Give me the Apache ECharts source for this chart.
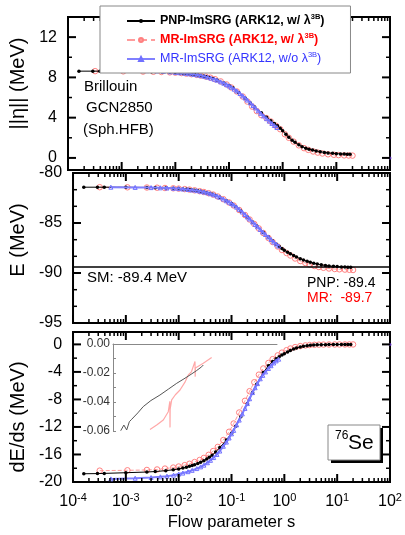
<!DOCTYPE html>
<html lang="en" style="height: 100%">
<head>
  <meta charset="utf-8">
</head>
<body style="height: 100%; margin: 0">
  <div id="container" style="width: 405px; height: 535px"></div>

  <script type="text/javascript" src="https://fastly.jsdelivr.net/npm/echarts@6/dist/echarts.min.js"></script>

  <script type="text/javascript">
    // ---- data ----
    // PNP-ImSRG (black dots)
    const sPNP = [1.6e-4, 2.9e-4, 3.9e-4, 1.0e-3, 2.5e-3, 3.6e-3, 5.7e-3, 7.9e-3, 0.010, 0.012,
      0.014, 0.016, 0.018, 0.020, 0.023, 0.026, 0.030, 0.034, 0.038, 0.043,
      0.050, 0.060, 0.080, 0.10, 0.12, 0.15, 0.20, 0.25, 0.30, 0.40,
      0.50, 0.60, 0.70, 0.80, 0.90, 1.0, 1.15, 1.3, 1.5, 1.7,
      2.0, 2.3, 2.7, 3.1, 3.6, 4.2, 5.0, 6.0, 7.0, 8.5,
      10, 12, 14, 16, 18];
    const etaPNP = [8.62, 8.62, 8.62, 8.60, 8.58, 8.56, 8.53, 8.50, 8.47, 8.44,
      8.41, 8.38, 8.35, 8.32, 8.28, 8.24, 8.18, 8.12, 8.06, 7.99,
      7.90, 7.75, 7.45, 7.20, 6.95, 6.50, 5.95, 5.45, 5.05, 4.50,
      4.05, 3.70, 3.42, 3.20, 2.95, 2.70, 2.35, 2.05, 1.75, 1.55,
      1.30, 1.12, 0.97, 0.87, 0.78, 0.70, 0.62, 0.55, 0.50, 0.46,
      0.42, 0.40, 0.38, 0.37, 0.37];
    const ePNP = [-81.42, -81.42, -81.42, -81.43, -81.45, -81.47, -81.50, -81.53, -81.56, -81.60,
      -81.63, -81.66, -81.70, -81.73, -81.78, -81.83, -81.90, -81.97, -82.04, -82.12,
      -82.25, -82.42, -82.78, -83.05, -83.35, -83.80, -84.40, -84.90, -85.30, -85.95,
      -86.40, -86.80, -87.10, -87.35, -87.55, -87.72, -87.92, -88.08, -88.25, -88.40,
      -88.57, -88.70, -88.82, -88.92, -89.02, -89.10, -89.18, -89.24, -89.29, -89.33,
      -89.36, -89.39, -89.41, -89.42, -89.43];
    const dedsPNP = [-18.80, -18.78, -18.75, -18.65, -18.55, -18.48, -18.35, -18.22, -18.10, -17.98,
      -17.85, -17.72, -17.60, -17.48, -17.30, -17.12, -16.90, -16.65, -16.40, -16.10,
      -15.65, -15.00, -13.90, -12.90, -11.90, -10.50, -8.60, -7.00, -5.80, -4.10,
      -3.10, -2.50, -2.10, -1.80, -1.55, -1.35, -1.10, -0.88, -0.68, -0.53,
      -0.37, -0.27, -0.19, -0.14, -0.10, -0.07, -0.05, -0.035, -0.025, -0.02,
      -0.015, -0.012, -0.01, -0.008, -0.007];

    // MR-ImSRG w/ lambda3B (red open circles)
    const sMR = [3.2e-4, 1.07e-3, 2.5e-3, 3.9e-3, 5.5e-3, 7.9e-3, 0.010, 0.013, 0.016, 0.020,
      0.025, 0.030, 0.037, 0.045, 0.055, 0.070, 0.090, 0.11, 0.14, 0.18,
      0.22, 0.27, 0.33, 0.40, 0.50, 0.60, 0.75, 0.90, 1.1, 1.3,
      1.6, 2.0, 2.5, 3.0, 3.7, 4.5, 5.5, 7.0, 9.0, 11,
      14, 17, 20];
    const etaMR = [8.62, 8.60, 8.58, 8.56, 8.54, 8.50, 8.47, 8.43, 8.38, 8.32,
      8.25, 8.18, 8.08, 7.97, 7.82, 7.60, 7.30, 7.00, 6.60, 6.10,
      5.60, 5.10, 4.65, 4.25, 3.95, 3.62, 3.20, 2.85, 2.35, 2.00,
      1.62, 1.25, 0.97, 0.80, 0.64, 0.53, 0.44, 0.36, 0.31, 0.28,
      0.25, 0.24, 0.23];
    const eMR = [-81.42, -81.43, -81.45, -81.47, -81.50, -81.53, -81.56, -81.61, -81.66, -81.73,
      -81.82, -81.90, -82.02, -82.16, -82.35, -82.62, -82.95, -83.25, -83.70, -84.20,
      -84.65, -85.10, -85.55, -86.00, -86.50, -86.90, -87.35, -87.70, -88.00, -88.25,
      -88.55, -88.80, -89.00, -89.15, -89.30, -89.40, -89.48, -89.55, -89.60, -89.63,
      -89.66, -89.68, -89.70];
    const dedsMR = [-18.35, -18.30, -18.25, -18.18, -18.05, -17.90, -17.75, -17.55, -17.35, -17.10,
      -16.80, -16.50, -16.05, -15.50, -14.90, -13.90, -12.70, -11.50, -9.90, -8.20,
      -6.80, -5.50, -4.40, -3.50, -2.70, -2.15, -1.60, -1.20, -0.85, -0.60,
      -0.40, -0.25, -0.15, -0.10, -0.06, -0.04, -0.03, -0.02, -0.015, -0.012,
      -0.010, -0.009, -0.008];

    // MR-ImSRG w/o lambda3B (blue open triangles)
    const sMR2 = [5.2e-4, 1.5e-3, 3.0e-3, 4.5e-3, 6.0e-3, 8.0e-3, 0.010, 0.012, 0.015, 0.018,
      0.022, 0.026, 0.030, 0.035, 0.040, 0.046, 0.053, 0.060, 0.070, 0.080,
      0.090, 0.10, 0.11, 0.125, 0.14, 0.16, 0.18, 0.20, 0.22, 0.25,
      0.28, 0.31, 0.35, 0.39, 0.44, 0.50, 0.56, 0.63, 0.70, 0.78];
    const etaMR2 = [8.72, 8.70, 8.67, 8.64, 8.60, 8.55, 8.50, 8.46, 8.41, 8.36,
      8.30, 8.24, 8.18, 8.10, 8.02, 7.93, 7.82, 7.72, 7.56, 7.42,
      7.28, 7.15, 7.02, 6.83, 6.65, 6.40, 6.17, 5.95, 5.75, 5.47,
      5.20, 4.97, 4.68, 4.43, 4.17, 3.90, 3.66, 3.42, 3.22, 3.02];
    const eMR2 = [-81.42, -81.44, -81.46, -81.48, -81.50, -81.53, -81.56, -81.60, -81.65, -81.70,
      -81.76, -81.83, -81.90, -81.98, -82.07, -82.17, -82.30, -82.42, -82.60, -82.78,
      -82.92, -83.05, -83.20, -83.42, -83.63, -83.90, -84.15, -84.40, -84.60, -84.90,
      -85.15, -85.38, -85.65, -85.90, -86.15, -86.40, -86.65, -86.90, -87.10, -87.30];
    const dedsMR2 = [-19.55, -19.45, -19.35, -19.25, -19.15, -19.00, -18.85, -18.70, -18.50, -18.30,
      -18.05, -17.80, -17.55, -17.20, -16.85, -16.45, -16.00, -15.50, -14.80, -14.20,
      -13.60, -13.00, -12.50, -11.70, -11.00, -10.10, -9.30, -8.60, -7.90, -7.00,
      -6.30, -5.70, -5.00, -4.50, -4.00, -3.50, -3.10, -2.70, -2.40, -2.15];

    // stray point at the right edge
    const sStray = [100];
    const etaStray = [0];
    const dedsStray = [0];

    // inset (dE/ds, small scale)
    const sInsetPNP = [9.6e-4, 1.10e-3, 1.24e-3, 1.39e-3, 1.54e-3, 2.0e-3, 2.52e-3, 3.5e-3, 5.16e-3, 7.5e-3,
      0.0106, 0.0145, 0.0187, 0.0245, 0.0309, 0.0331];
    const insetPNP = [-0.0598, -0.0559, -0.0593, -0.0536, -0.0519, -0.0475, -0.0432, -0.0390, -0.0352, -0.0310,
      -0.0271, -0.0240, -0.0214, -0.0185, -0.0157, -0.0145];
    const sInsetMR = [3.37e-3, 4.49e-3, 5.96e-3, 7.38e-3, 7.9e-3, 7.95e-3, 8.0e-3, 8.54e-3, 0.0100, 0.0122,
      0.0150, 0.0174, 0.0200, 0.0232, 0.0234, 0.0236, 0.0249, 0.0331, 0.0474];
    const insetMR = [-0.0590, -0.0559, -0.0524, -0.0467, -0.0395, -0.0575, -0.0450, -0.0386, -0.0350, -0.0317,
      -0.0265, -0.0214, -0.0190, -0.0120, -0.0225, -0.0165, -0.0157, -0.0133, -0.0093];

    // ---- ticks ----
    const xMajor = [1e-4, 1e-3, 1e-2, 1e-1, 1, 10, 100];
    const xMinor = [];
    for (let d = -4; d < 2; d++) {
      for (let m = 2; m < 10; m++) xMinor.push(+(m * Math.pow(10, d)).toPrecision(3));
    }
    const etaMajor = [0, 4, 8, 12];
    const etaMinor = [2, 6, 10];
    const eMajor = [-95, -90, -85, -80];
    const eMinor = [-93.33, -91.67, -88.33, -86.67, -83.33, -81.67];
    const dedsMajor = [-20, -16, -12, -8, -4, 0];
    const dedsMinor = [-18, -14, -10, -6, -2];

    const names = ['PNP-ImSRG (ARK12, w/ λ3B)', 'MR-ImSRG (ARK12, w/ λ3B)', 'MR-ImSRG (ARK12, w/o λ3B)'];
    const FONT = 'Liberation Sans, Arial, sans-serif';
    const xRange = [1e-4, 100];
    const yRanges = [[-1.2, 14], [-95, -80], [-20, 1.8]];

    var dom = document.getElementById('container');
    var myChart = echarts.init(dom, null, { renderer: 'canvas' });

    function pts(s, v) {
      return s.map(function (x, i) { return [x, v[i]]; });
    }

    function makeX(g) {
      const ax = {
        type: 'log', logBase: 10, gridIndex: g, min: xRange[0], max: xRange[1], position: 'bottom',
        axisLine: { show: false, onZero: false }, axisTick: { show: false }, splitLine: { show: false },
        axisLabel: { show: false }
      };
      if (g === 2) {
        ax.axisLabel = {
          show: true, customValues: xMajor, margin: 10, showMinLabel: true, showMaxLabel: true,
          formatter: function (v) {
            return '{b|10}{sup|' + Math.round(Math.log10(v)) + '}';
          },
          rich: {
            b: { fontSize: 16, lineHeight: 20, color: '#000', fontFamily: FONT },
            sup: { fontSize: 11, lineHeight: 11, verticalAlign: 'top', color: '#000', fontFamily: FONT }
          }
        };
        ax.name = 'Flow parameter s';
        ax.nameLocation = 'middle';
        ax.nameGap = 32;
        ax.nameTextStyle = { fontSize: 16.5, color: '#000', fontFamily: FONT };
      }
      return ax;
    }

    // namePad shifts the rotated title along the axis
    function makeY(g, majors, title, namePad) {
      return {
        type: 'value', gridIndex: g, min: yRanges[g][0], max: yRanges[g][1], position: 'left',
        axisLine: { show: false, onZero: false }, axisTick: { show: false }, splitLine: { show: false },
        axisLabel: { show: true, customValues: majors, margin: 11, fontSize: 16, color: '#000', fontFamily: FONT },
        name: title, nameLocation: 'middle', nameGap: 38,
        nameTextStyle: { fontSize: 20, color: '#000', fontFamily: FONT, padding: namePad }
      };
    }

    // inward tick marks on all four sides of a panel, placed through the axes
    function tickSeries(g, yMajor, yMinor) {
      const yr = yRanges[g];
      const xd = xMajor.map(function (v) { return [v, yr[0], 1]; })
        .concat(xMinor.map(function (v) { return [v, yr[0], 0]; }));
      const yd = yMajor.map(function (v) { return [xRange[0], v, 1]; })
        .concat(yMinor.map(function (v) { return [xRange[0], v, 0]; }));
      const common = { type: 'custom', xAxisIndex: g, yAxisIndex: g, clip: false, silent: true, z: 6, encode: { x: 0, y: 1 } };
      function seg(x1, y1, x2, y2, w) {
        return { type: 'line', shape: { x1: x1, y1: y1, x2: x2, y2: y2 }, style: { stroke: '#000', lineWidth: w } };
      }
      return [
        Object.assign({}, common, {
          data: xd,
          renderItem: function (params, api) {
            const v = api.value(0), big = api.value(2) === 1;
            const L = big ? 8 : 4, w = big ? 2 : 1.5;
            const b = api.coord([v, yr[0]]), t = api.coord([v, yr[1]]);
            return { type: 'group', children: [seg(b[0], b[1], b[0], b[1] - L, w), seg(t[0], t[1], t[0], t[1] + L, w)] };
          }
        }),
        Object.assign({}, common, {
          data: yd,
          renderItem: function (params, api) {
            const v = api.value(1), big = api.value(2) === 1;
            const L = big ? 8 : 4, w = big ? 2 : 1.5;
            const l = api.coord([xRange[0], v]), r = api.coord([xRange[1], v]);
            return { type: 'group', children: [seg(l[0], l[1], l[0] + L, l[1], w), seg(r[0], r[1], r[0] - L, r[1], w)] };
          }
        })
      ];
    }

    const xAxes = [makeX(0), makeX(1), makeX(2)];
    xAxes.push({
      type: 'log', logBase: 10, gridIndex: 3, min: 6.9e-4, max: 0.78, position: 'top',
      axisLine: { show: true, onZero: false, lineStyle: { color: '#888', width: 1 } },
      axisTick: { show: false }, axisLabel: { show: false }, splitLine: { show: false }
    });
    const yAxes = [
      makeY(0, etaMajor, '||η|| (MeV)', [0, 0, 0, 20]),
      makeY(1, eMajor, 'E (MeV)', [0, 0, 0, 16]),
      makeY(2, dedsMajor, 'dE/ds (MeV)', [0, 20, 0, 0])
    ];
    yAxes.push({
      type: 'value', gridIndex: 3, min: -0.06, max: 0, interval: 0.02, position: 'left',
      axisLine: { show: true, onZero: false, lineStyle: { color: '#888', width: 1 } },
      axisTick: { show: true, inside: true, length: 3, lineStyle: { color: '#888' } },
      minorTick: { show: true, splitNumber: 2, length: 3, lineStyle: { color: '#888' } },
      axisLabel: { fontSize: 12, color: '#333', margin: 3, fontFamily: FONT, formatter: function (v) { return v.toFixed(2); } },
      splitLine: { show: false }
    });

    const redStyle = {
      type: 'line', symbol: 'circle', symbolSize: 5.5, z: 2,
      lineStyle: { color: '#ff9c9c', width: 1, type: 'dashed' },
      itemStyle: { color: 'rgba(255,255,255,0)', borderColor: '#ff8080', borderWidth: 1 }
    };
    const blackStyle = {
      type: 'line', symbol: 'circle', symbolSize: 3.5, z: 3,
      lineStyle: { color: '#000', width: 1 },
      itemStyle: { color: '#000' }
    };
    const blueStyle = {
      type: 'line', symbol: 'triangle', symbolSize: 4, z: 4,
      lineStyle: { color: '#8080ff', width: 2 },
      itemStyle: { color: 'rgba(255,255,255,0)', borderColor: '#7070ff', borderWidth: 1 }
    };

    const panels = [
      { pnp: etaPNP, mr: etaMR, mr2: etaMR2, yMaj: etaMajor, yMin: etaMinor },
      { pnp: ePNP, mr: eMR, mr2: eMR2, yMaj: eMajor, yMin: eMinor },
      { pnp: dedsPNP, mr: dedsMR, mr2: dedsMR2, yMaj: dedsMajor, yMin: dedsMinor }
    ];
    let series = [];
    panels.forEach(function (p, g) {
      const ax = { xAxisIndex: g, yAxisIndex: g };
      series.push(Object.assign({ name: names[1], data: pts(sMR, p.mr) }, redStyle, ax));
      const blk = Object.assign({ name: names[0], data: pts(sPNP, p.pnp) }, blackStyle, ax);
      if (g === 1) {
        blk.markLine = {
          silent: true, symbol: 'none', label: { show: false },
          lineStyle: { color: '#000', width: 1.5, type: 'solid' },
          data: [{ yAxis: -89.4 }]
        };
      }
      series.push(blk);
      series.push(Object.assign({ name: names[2], data: pts(sMR2, p.mr2) }, blueStyle, ax));
      series = series.concat(tickSeries(g, p.yMaj, p.yMin));
    });
    series.push({ type: 'scatter', xAxisIndex: 0, yAxisIndex: 0, data: pts(sStray, etaStray), symbolSize: 3, itemStyle: { color: '#6633cc' }, z: 5 });
    series.push({ type: 'scatter', xAxisIndex: 2, yAxisIndex: 2, data: pts(sStray, dedsStray), symbolSize: 3, itemStyle: { color: '#6633cc' }, z: 5 });
    series.push({ type: 'line', xAxisIndex: 3, yAxisIndex: 3, data: pts(sInsetMR, insetMR), symbol: 'none', lineStyle: { color: '#ffa8a8', width: 1.2 }, z: 2 });
    series.push({ type: 'line', xAxisIndex: 3, yAxisIndex: 3, data: pts(sInsetPNP, insetPNP), symbol: 'none', lineStyle: { color: '#555', width: 1 }, z: 2 });

    const supStyle = function (c) {
      return { fontSize: 7.5, lineHeight: 8, verticalAlign: 'top', color: c, fontFamily: FONT };
    };
    const supKey = {};
    supKey[names[0]] = 'sk';
    supKey[names[1]] = 'sr';
    supKey[names[2]] = 'sb';

    option = {
      animation: false,
      backgroundColor: '#fff',
      textStyle: { fontFamily: FONT },
      grid: [
        { left: 68, top: 17, width: 322, height: 153, show: true, borderColor: '#000', borderWidth: 2 },
        { left: 68, top: 173, width: 322, height: 150, show: true, borderColor: '#000', borderWidth: 2 },
        { left: 68, top: 332, width: 322, height: 150, show: true, borderColor: '#000', borderWidth: 2 },
        { left: 113, top: 344, width: 164, height: 87, show: false }
      ],
      xAxis: xAxes,
      yAxis: yAxes,
      legend: {
        z: 20,
        left: 100, top: 6, orient: 'vertical', selectedMode: false,
        itemWidth: 28, itemHeight: 5, itemGap: 3,
        padding: [7, 26, 6, 26],
        backgroundColor: '#fff', borderColor: '#888', borderWidth: 1,
        data: [
          { name: names[0], textStyle: { color: '#000', fontWeight: 'bold' } },
          { name: names[1], textStyle: { color: '#ff0000', fontWeight: 'bold' } },
          { name: names[2], textStyle: { color: '#3333ff' } }
        ],
        textStyle: {
          fontSize: 12.5, lineHeight: 16, fontFamily: FONT,
          rich: { sk: supStyle('#000'), sr: supStyle('#ff0000'), sb: supStyle('#3333ff') }
        },
        formatter: function (n) {
          return n.replace('λ3B', 'λ{' + supKey[n] + '|3B}');
        }
      },
      graphic: [
        { type: 'text', left: 84, top: 79, style: { text: 'Brillouin', font: '15px ' + FONT, fill: '#000' } },
        { type: 'text', left: 86, top: 100, style: { text: 'GCN2850', font: '15px ' + FONT, fill: '#000' } },
        { type: 'text', left: 83, top: 122, style: { text: '(Sph.HFB)', font: '15px ' + FONT, fill: '#000' } },
        { type: 'text', left: 87, top: 270, style: { text: 'SM: -89.4 MeV', font: '15px ' + FONT, fill: '#000' } },
        { type: 'text', left: 307, top: 276, style: { text: 'PNP: -89.4', font: '14px ' + FONT, fill: '#000' } },
        { type: 'text', left: 307, top: 291, style: { text: 'MR:  -89.7', font: '14px ' + FONT, fill: '#ff0000' } },
        { type: 'rect', shape: { x: 331, y: 428, width: 52, height: 35 }, style: { fill: '#000' }, z: 10 },
        { type: 'rect', shape: { x: 328, y: 425, width: 52, height: 35 }, style: { fill: '#fff', stroke: '#888', lineWidth: 1 }, z: 11 },
        { type: 'text', x: 335, y: 430, style: { text: '76', font: '12px ' + FONT, fill: '#000' }, z: 12 },
        { type: 'text', x: 348, y: 433, style: { text: 'Se', font: '21px ' + FONT, fill: '#000' }, z: 12 }
      ],
      series: series
    };

    if (option && typeof option === 'object') {
      myChart.setOption(option);
    }
    window.addEventListener('resize', myChart.resize);
  </script>
</body>
</html>
